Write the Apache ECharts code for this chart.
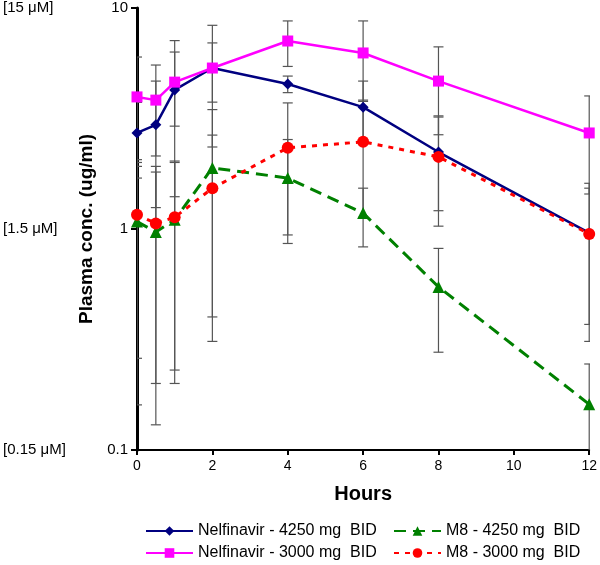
<!DOCTYPE html>
<html>
<head>
<meta charset="utf-8">
<script src="https://cdn.jsdelivr.net/npm/echarts@6/dist/echarts.min.js"></script>
<style>html,body{margin:0;padding:0;background:#fff;}#c{width:600px;height:565px;}</style>
</head>
<body>
<div id="c"></div>
<script>
// ---- data ----
const hours = [0, 0.5, 1, 2, 4, 6, 8, 12];
const nelf4250 = [2.72, 2.96, 4.26, 5.35, 4.53, 3.56, 2.23, 0.96];
const nelf4250SD = [1.02, 1.71, 2.86, 3.0, 0.39, 1.11, 1.02, 0.65];
const nelf3000 = [3.96, 3.83, 4.62, 5.35, 7.09, 6.26, 4.67, 2.72];
const nelf3000SD = [2.04, 1.69, 1.70, 1.6, 1.65, 2.48, 2.0, 1.28];
const m8_4250 = [1.08, 0.97, 1.10, 1.89, 1.70, 1.18, 0.547, 0.161];
const m8_4250SD = [0.92, 0.84, 0.90, 1.58, 0.84, 0.35, 0.27, 0.084];
const m8_3000 = [1.16, 1.06, 1.13, 1.53, 2.33, 2.48, 2.12, 0.95];
const m8_3000SD = [0.90, 0.86, 0.90, 1.13, 1.39, 1.35, 1.09, 0.58];
const seriesNames = ['Nelfinavir - 4250 mg  BID', 'Nelfinavir - 3000 mg  BID', 'M8 - 4250 mg  BID', 'M8 - 3000 mg  BID'];
const umLabels = {'0.1': '[0.15 μM]', '1': '[1.5 μM]', '10': '[15 μM]'};

const AXIS_MIN = 0.1;
function pts(vals) { return hours.map((h, i) => [h, vals[i]]); }
function errs(vals, sd) { return hours.map((h, i) => [h, vals[i] - sd[i], vals[i] + sd[i]]); }
const allErr = [].concat(errs(nelf4250, nelf4250SD), errs(nelf3000, nelf3000SD), errs(m8_4250, m8_4250SD), errs(m8_3000, m8_3000SD));

const font = 'Liberation Sans, Arial, sans-serif';
const chart = echarts.init(document.getElementById('c'), null, {renderer: 'canvas'});

function renderErr(params, api) {
  const x = api.value(0), lo = api.value(1), hi = api.value(2);
  const showLo = lo > AXIS_MIN;
  const top = api.coord([x, hi]);
  const bot = api.coord([x, showLo ? lo : AXIS_MIN]);
  const st = {stroke: '#555', lineWidth: 1.2};
  const cw = 5;
  const children = [
    {type: 'line', shape: {x1: top[0], y1: top[1], x2: bot[0], y2: bot[1]}, style: st},
    {type: 'line', shape: {x1: top[0] - cw, y1: top[1], x2: top[0] + cw, y2: top[1]}, style: st}
  ];
  if (showLo) children.push({type: 'line', shape: {x1: bot[0] - cw, y1: bot[1], x2: bot[0] + cw, y2: bot[1]}, style: st});
  return {type: 'group', children: children};
}

function legendAt(name, left, top) {
  return {left: left, top: top, itemWidth: 47, itemHeight: 12, padding: 0,
    textStyle: {fontSize: 16, color: '#000', fontFamily: font}, data: [name]};
}

chart.setOption({
  animation: false,
  backgroundColor: '#fff',
  textStyle: {fontFamily: font},
  grid: {left: 137, right: 9, top: 8, bottom: 115, containLabel: false},
  xAxis: {
    type: 'value', min: 0, max: 12, interval: 2,
    name: 'Hours', nameLocation: 'middle', nameGap: 34,
    nameTextStyle: {fontSize: 20, fontWeight: 'bold', color: '#000', fontFamily: font},
    axisLine: {lineStyle: {color: '#000', width: 2}},
    axisTick: {show: true, length: 5, lineStyle: {color: '#000', width: 2}},
    axisLabel: {fontSize: 14, color: '#000', margin: 9, fontFamily: font},
    splitLine: {show: false}
  },
  yAxis: [{
    type: 'log', logBase: 10, min: 0.1, max: 10,
    name: 'Plasma conc. (ug/ml)', nameLocation: 'middle', nameGap: 40,
    nameTextStyle: {fontSize: 19, fontWeight: 'bold', color: '#000', fontFamily: font},
    axisLine: {show: true, lineStyle: {color: '#000', width: 3}},
    axisTick: {show: true, length: 6, lineStyle: {color: '#000', width: 2}},
    axisLabel: {fontSize: 15, color: '#000', margin: 9, fontFamily: font,
      formatter: v => (Math.abs(v - 10) < 1e-6 ? '10' : Math.abs(v - 1) < 1e-6 ? '1' : '0.1')},
    splitLine: {show: false}
  }, {
    type: 'log', logBase: 10, min: 0.1, max: 10, position: 'left',
    axisLine: {show: false}, axisTick: {show: false}, splitLine: {show: false},
    axisLabel: {fontSize: 15, color: '#000', margin: 134, align: 'left', fontFamily: font,
      formatter: v => (Math.abs(v - 10) < 1e-6 ? umLabels['10'] : Math.abs(v - 1) < 1e-6 ? umLabels['1'] : umLabels['0.1'])}
  }],
  legend: [
    legendAt(seriesNames[0], 145, 523),
    legendAt(seriesNames[1], 145, 545),
    legendAt(seriesNames[2], 393, 523),
    legendAt(seriesNames[3], 393, 545)
  ],
  series: [
    {type: 'custom', renderItem: renderErr, data: allErr, z: 1, silent: true, clip: true,
      encode: {x: 0, y: [1, 2]}},
    {name: seriesNames[0], type: 'line', data: pts(nelf4250), z: 2,
      symbol: 'diamond', symbolSize: 11, color: '#000080',
      lineStyle: {width: 2.5, color: '#000080'}, itemStyle: {color: '#000080'}},
    {name: seriesNames[1], type: 'line', data: pts(nelf3000), z: 3,
      symbol: 'rect', symbolSize: 11, color: '#ff00ff',
      lineStyle: {width: 2.5, color: '#ff00ff'}, itemStyle: {color: '#ff00ff'}},
    {name: seriesNames[2], type: 'line', data: pts(m8_4250), z: 4,
      symbol: 'triangle', symbolSize: 12, color: '#008000',
      lineStyle: {width: 3, color: '#008000', type: [12, 7]}, itemStyle: {color: '#008000'}},
    {name: seriesNames[3], type: 'line', data: pts(m8_3000), z: 5,
      symbol: 'circle', symbolSize: 12, color: '#ff0000',
      lineStyle: {width: 3, color: '#ff0000', type: [5, 6]}, itemStyle: {color: '#ff0000'}}
  ]
});
</script>
</body>
</html>
